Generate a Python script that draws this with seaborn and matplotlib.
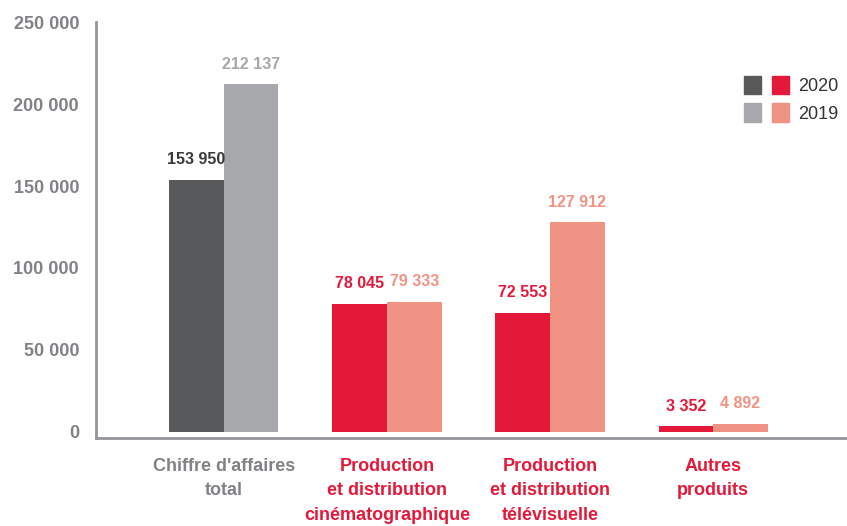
import pandas as pd
import seaborn as sns
import matplotlib.pyplot as plt
from matplotlib.patches import Patch
from matplotlib.legend_handler import HandlerTuple

sns.set_style("white")

categories = ["Chiffre d'affaires\ntotal",
              "Production\net distribution\ncinématographique",
              "Production\net distribution\ntélévisuelle",
              "Autres\nproduits"]
years = ["2020", "2019"]
values_2020 = [153950, 78045, 72553, 3352]
values_2019 = [212137, 79333, 127912, 4892]
y_ticks = [0, 50000, 100000, 150000, 200000, 250000]

dark_gray, light_gray = "#58595b", "#a7a8ab"
red, salmon = "#e4193a", "#f09384"
axis_gray = "#939598"
label_gray = "#808285"

df = pd.DataFrame({
    "cat": categories * 2,
    "year": [years[0]] * 4 + [years[1]] * 4,
    "value": values_2020 + values_2019,
})

fig = plt.figure(figsize=(8.47, 5.26), dpi=100)
ax = fig.add_axes([0.113, 0.167, 0.887, 0.791])

sns.barplot(data=df, x="cat", y="value", hue="year", order=categories,
            hue_order=years, palette=[red, salmon], width=0.67,
            saturation=1, ax=ax, legend=False)

# first group is grey, the rest red / salmon
bar_colors = {0: [dark_gray, red, red, red], 1: [light_gray, salmon, salmon, salmon]}
text_colors = {0: ["#3a3a3c", red, red, red], 1: [light_gray, salmon, salmon, salmon]}
for k, cont in enumerate(ax.containers):
    for i, bar in enumerate(cont):
        bar.set_facecolor(bar_colors[k][i])
        bar.set_edgecolor("none")
        v = int(bar.get_height())
        ax.annotate(f"{v:,}".replace(",", " "),
                    (bar.get_x() + bar.get_width() / 2, bar.get_height()),
                    xytext=(0, 9), textcoords="offset points",
                    ha="center", va="bottom", fontsize=11.5, fontweight="bold",
                    color=text_colors[k][i], family=["Liberation Sans", "DejaVu Sans"])

ax.set_ylim(-3800, 250000)
ax.set_xlim(-0.785, 3.82)
ax.set_yticks(y_ticks)
ax.set_yticklabels([f"{t:,}".replace(",", " ") for t in y_ticks])
ax.set_xlabel("")
ax.set_ylabel("")

for lab in ax.get_yticklabels():
    lab.set_fontsize(13)
    lab.set_fontweight("bold")
    lab.set_color(label_gray)
    lab.set_family(["Liberation Sans", "DejaVu Sans"])
for i, lab in enumerate(ax.get_xticklabels()):
    lab.set_fontsize(13)
    lab.set_fontweight("bold")
    lab.set_color(label_gray if i == 0 else red)
    lab.set_family(["Liberation Sans", "DejaVu Sans"])
    lab.set_linespacing(1.6)
    lab.set_va("top")

ax.tick_params(axis="y", length=0, pad=12)
ax.tick_params(axis="x", length=0, pad=14)
sns.despine(ax=ax, top=True, right=True)
for side in ["left", "bottom"]:
    ax.spines[side].set_color(axis_gray)
    ax.spines[side].set_linewidth(2)

handles = [(Patch(color=dark_gray), Patch(color=red)),
           (Patch(color=light_gray), Patch(color=salmon))]
ax.legend(handles, years, handler_map={tuple: HandlerTuple(ndivide=None, pad=0.6)},
          loc="upper right", bbox_to_anchor=(1.01, 0.91), frameon=False,
          handlelength=2.5, handleheight=1.2, handletextpad=0.5, labelspacing=0.45,
          prop={"family": "Liberation Sans", "size": 13}, labelcolor="#333333")

fig.savefig("out.png", dpi=100)
